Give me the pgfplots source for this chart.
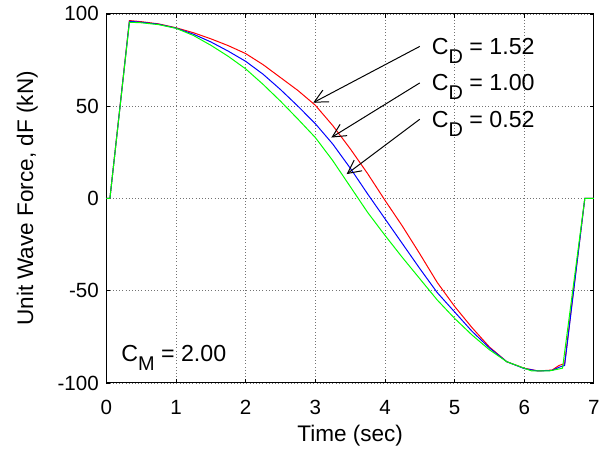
\documentclass[border=0pt]{standalone}
\usepackage{fontspec}
\setmainfont{Liberation Sans}
\usepackage{pgfplots}
\pgfplotsset{compat=1.18}
\usetikzlibrary{arrows.meta}

\newcommand\tickfont{\fontsize{15.5}{18}\selectfont}
\newcommand\notefont{\fontsize{17.5}{20}\selectfont}
\newcommand\subfont{\fontsize{15}{17}\selectfont}

\begin{document}
\begin{tikzpicture}
\begin{axis}[
    scale only axis,
    width=367.5pt, height=278.25pt,
    xmin=0, xmax=7, ymin=-100, ymax=100,
    xtick={0,1,...,7},
    ytick={-100,-50,0,50,100},
    tick align=inside,
    major tick length=3pt,
    every tick/.style={black, line width=0.6pt},
    axis line style={line width=0.75pt},
    grid=major,
    grid style={dotted, black!55, line width=0.6pt},
    tick label style={font=\tickfont},
    /pgf/number format/assume math mode=true,
    xticklabel style={yshift=-9.5pt},
    yticklabel style={xshift=-2.25pt},
    label style={font=\fontsize{17}{20}\selectfont},
    xlabel={Time (sec)},
    ylabel={Unit Wave Force, dF (kN)},
    xlabel style={at={(axis description cs:0.5,-0.159)}, anchor=base},
    ylabel style={at={(axis description cs:-0.1505,0.5)}, anchor=base},
]
% C_D = 1.52
\addplot[red, line width=0.75pt] coordinates {
    (0,0) (0.05,0) (0.33,96.4) (0.5,95.8) (0.75,94.6) (1.0,92.5)
    (1.25,89.8) (1.5,86.5) (1.75,82.8) (2.0,78.5) (2.25,72.5) (2.5,65.5)
    (2.75,58.5) (3.0,50.5) (3.25,39.5) (3.5,27) (3.75,13.5) (4.0,-1)
    (4.25,-15) (4.5,-30) (4.75,-45.5) (5.0,-58.5) (5.25,-70) (5.5,-80.5)
    (5.75,-88.5) (6.0,-92) (6.2,-93.5) (6.4,-93) (6.5,-90.5) (6.58,-89.5)
    (6.87,0) (7,0)};
% C_D = 1.00
\addplot[blue, line width=0.75pt] coordinates {
    (0,0) (0.05,0) (0.33,96) (0.5,95.5) (0.75,94.4) (1.0,92.3)
    (1.25,89) (1.5,84.8) (1.75,79.8) (2.0,74.3) (2.25,67.3) (2.5,59)
    (2.75,50) (3.0,40.5) (3.25,29.5) (3.5,16.5) (3.75,2.5) (4.0,-11)
    (4.25,-24.5) (4.5,-38) (4.75,-51) (5.0,-61.5) (5.25,-72) (5.5,-81)
    (5.75,-88.5) (6.0,-92.2) (6.2,-93.5) (6.4,-93.2) (6.5,-91.5) (6.58,-90.5)
    (6.87,0) (7,0)};
% C_D = 0.52
\addplot[green, line width=0.75pt] coordinates {
    (0,0) (0.05,0) (0.33,95.5) (0.5,95.2) (0.75,94.2) (1.0,92.2)
    (1.25,88.3) (1.5,83) (1.75,77) (2.0,70.2) (2.25,61.8) (2.5,52.7)
    (2.75,43) (3.0,33) (3.25,20.5) (3.5,6.5) (3.75,-7.5) (4.0,-20)
    (4.25,-32) (4.5,-43.5) (4.75,-55) (5.0,-65) (5.25,-74) (5.5,-82)
    (5.75,-88.5) (6.0,-92) (6.1,-93.4) (6.37,-93.4) (6.55,-92)
    (6.87,0) (7,0)};

\draw[-{Straight Barb[length=10pt,width=10pt]}, line width=0.75pt]
    (axis cs:4.50,82.4) -- (axis cs:2.97,51.9);
\draw[-{Straight Barb[length=10pt,width=10pt]}, line width=0.75pt]
    (axis cs:4.50,62.6) -- (axis cs:3.23,33.0);
\draw[-{Straight Barb[length=10pt,width=10pt]}, line width=0.75pt]
    (axis cs:4.50,42.9) -- (axis cs:3.45,13.2);

\node[anchor=base west, inner sep=0pt, font=\notefont] at (axis cs:4.67,77.9)
    {C\raisebox{-7pt}{\subfont D} = 1.52};
\node[anchor=base west, inner sep=0pt, font=\notefont] at (axis cs:4.67,58.5)
    {C\raisebox{-7pt}{\subfont D} = 1.00};
\node[anchor=base west, inner sep=0pt, font=\notefont] at (axis cs:4.67,38.7)
    {C\raisebox{-7pt}{\subfont D} = 0.52};
\node[anchor=base west, inner sep=0pt, font=\notefont] at (axis cs:0.21,-88.3)
    {C\raisebox{-7pt}{\subfont M} = 2.00};
\end{axis}
\path ([shift={(-80.25pt,-51.75pt)}]current axis.south west)
    rectangle ([shift={(5.25pt,10.5pt)}]current axis.north east);
\end{tikzpicture}
\end{document}
